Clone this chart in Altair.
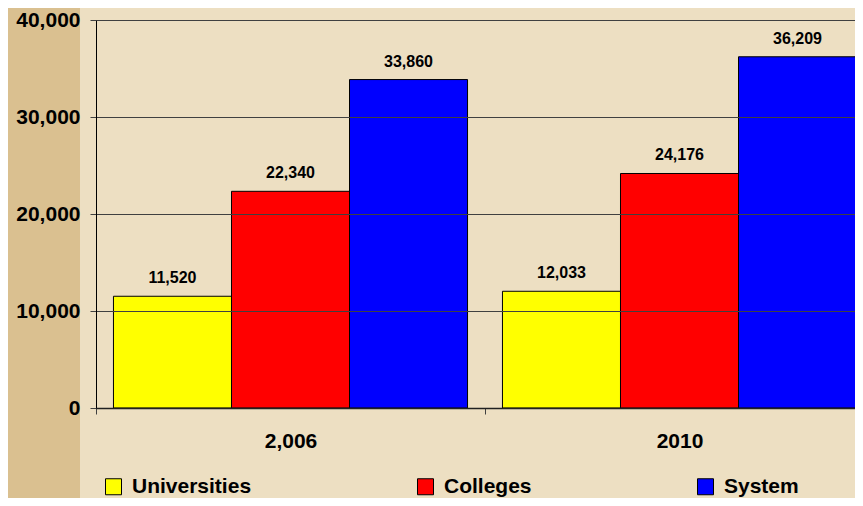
import altair as alt
import pandas as pd

years = ["2,006", "2010"]
series = ["Universities", "Colleges", "System"]
universities = [11520, 12033]
colleges = [22340, 24176]
system = [33860, 36209]
colors = ["#FFFF00", "#FF0000", "#0000FF"]
y_ticks = [0, 10000, 20000, 30000, 40000]

rows = []
for i, yr in enumerate(years):
    for s, vals in zip(series, [universities, colleges, system]):
        rows.append({"year": yr, "series": s, "value": vals[i]})
df = pd.DataFrame(rows)

FONT = "Liberation Sans"

x_enc = alt.X(
    "year:N",
    sort=years,
    scale=alt.Scale(range=[0, 778], paddingInner=0, paddingOuter=0),
    axis=alt.Axis(
        title=None,
        labelAngle=0,
        labelFont=FONT,
        labelFontSize=21,
        labelFontWeight="bold",
        labelColor="black",
        labelPadding=16,
        tickBand="extent",
        ticks=True,
        tickSize=6,
        tickColor="#404040",
        domainColor="#202020",
        domainWidth=1.5,
        grid=False,
        zindex=1,
    ),
)
xoff = alt.XOffset(
    "series:N", sort=series, scale=alt.Scale(paddingInner=0, paddingOuter=0.148)
)
y_enc = alt.Y(
    "value:Q",
    scale=alt.Scale(domain=[0, 40000], nice=False),
    axis=alt.Axis(
        title=None,
        values=y_ticks,
        format=",.0f",
        labelFont=FONT,
        labelFontSize=21,
        labelFontWeight="bold",
        labelColor="black",
        labelPadding=10,
        tickSize=6,
        tickColor="#404040",
        domainColor="black",
        gridColor="#404040",
        gridWidth=1.2,
        zindex=1,
    ),
)

base = alt.Chart(df)

strip = alt.Chart(pd.DataFrame({"a": [0]})).mark_rect(color="#DAC090").encode(
    x=alt.value(-90), x2=alt.value(-16), y=alt.value(-15), y2=alt.value(500)
)

bars = base.mark_bar(stroke="black", strokeWidth=1).encode(
    x=x_enc,
    xOffset=xoff,
    y=y_enc,
    color=alt.Color(
        "series:N",
        sort=series,
        scale=alt.Scale(domain=series, range=colors),
        legend=alt.Legend(
            title=None,
            orient="none",
            legendX=7,
            legendY=456,
            direction="horizontal",
            symbolType="square",
            symbolSize=256,
            symbolStrokeColor="black",
            symbolStrokeWidth=1,
            symbolOpacity=1,
            labelFont=FONT,
            labelFontSize=21,
            labelFontWeight="bold",
            labelColor="black",
            labelOffset=8,
            columnPadding=163,
            padding=0,
        ),
    ),
)

labels = base.mark_text(
    font=FONT, fontSize=16, fontWeight="bold", color="black", baseline="bottom", dy=-10
).encode(
    x=alt.X("year:N", sort=years),
    xOffset=alt.XOffset("series:N", sort=series),
    y=alt.Y("value:Q"),
    text=alt.Text("value:Q", format=",.0f"),
)

chart = (
    alt.layer(strip, bars, labels)
    .properties(
        width=759,
        height=388,
        autosize="none",
        padding={"left": 88, "top": 12, "right": 0, "bottom": 90},
        background="#EDDFC2",
    )
    .configure_view(strokeWidth=0)
)

chart.save("out.html", embed_options={"renderer": "svg", "actions": False})
